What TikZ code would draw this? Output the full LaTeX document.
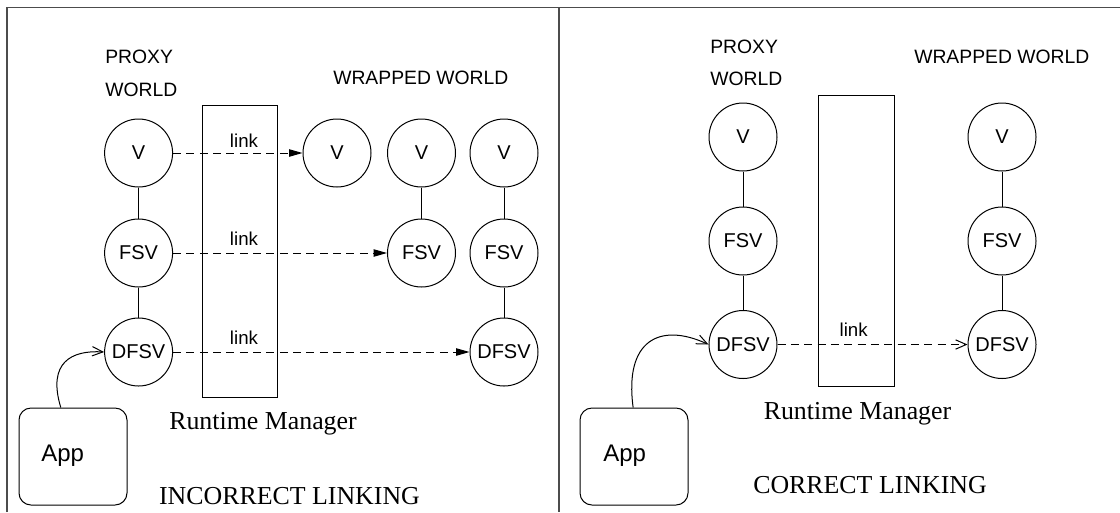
\documentclass[tikz,border=0pt]{standalone}
\usepackage{fontspec}
\setmainfont{Liberation Serif}
\setsansfont{Liberation Sans}
\usetikzlibrary{arrows.meta}
\begin{document}
\begin{tikzpicture}[x=0.75pt,y=-0.75pt,
 circ/.style={draw, circle, line width=0.75pt, minimum size=51pt, inner sep=0pt, font=\sffamily\fontsize{15}{18}\selectfont},
 lbl/.style={inner sep=0pt, font=\sffamily\fontsize{14.5}{17}\selectfont},
 linklbl/.style={inner sep=0pt, font=\sffamily\fontsize{14}{17}\selectfont},
 serif/.style={inner sep=0pt, font=\rmfamily\fontsize{19.4}{23}\selectfont},
 appbox/.style={draw, rounded corners=9pt, line width=0.75pt, minimum width=81pt, minimum height=72.75pt, inner sep=0pt},
 applbl/.style={inner sep=0pt, font=\sffamily\fontsize{18}{21}\selectfont},
 rmbox/.style={draw, line width=0.75pt, inner sep=0pt},
 frameline/.style={draw=black!70, line width=1.3pt},
 wire/.style={line width=0.75pt},
 dlink/.style={line width=0.75pt, dash pattern=on 6pt off 4pt},
 filledtip/.style={-{Triangle[length=10pt,width=5.5pt]}},
 opentip/.style={-{Straight Barb[length=8pt,width=7pt]}},
]
\useasboundingbox (0,0) rectangle (1120,512);

% frame
\coordinate (ftl) at (7,7.5);
\coordinate (ftr) at (1120,7.5);
\coordinate (fbl) at (7,512);
\coordinate (fdt) at (559,7.5);
\coordinate (fdb) at (559,512);
\draw[frameline] (fbl) -- (ftl) -- (ftr);
\draw[frameline] (fdt) -- (fdb);

% ---------------- left panel ----------------
\node[lbl, anchor=base west] (pxL) at (105,63) {PROXY};
\node[lbl, anchor=base west] (pwL) at (105,96) {WORLD};
\node[lbl, anchor=base west] (wwL) at (333,84) {WRAPPED WORLD};

\node[rmbox, minimum width=56.6pt, minimum height=219pt] (rmL) at (240.2,251) {};

\node[circ] (vL1) at (138.6,153) {V};
\node[circ] (vL2) at (337,153) {V};
\node[circ] (vL3) at (421.5,153) {V};
\node[circ] (vL4) at (504,153) {V};
\node[circ] (fL1) at (138.6,253) {FSV};
\node[circ] (fL3) at (421.5,253) {FSV};
\node[circ] (fL4) at (504,253) {FSV};
\node[circ] (dL1) at (138.6,352) {DFSV};
\node[circ] (dL4) at (504,352) {DFSV};

\draw[wire] (vL1) -- (fL1);
\draw[wire] (fL1) -- (dL1);
\draw[wire] (vL3) -- (fL3);
\draw[wire] (vL4) -- (fL4);
\draw[wire] (fL4) -- (dL4);

\node[linklbl, anchor=base] (lk1) at (244,147) {link};
\node[linklbl, anchor=base] (lk2) at (244,245) {link};
\node[linklbl, anchor=base] (lk3) at (244,344) {link};

\draw[dlink, filledtip] (vL1.east) -- (vL2.west);
\draw[dlink, filledtip] (fL1.east) -- (fL3.west);
\draw[dlink, filledtip] (dL1.east) -- (dL4.west);

\node[appbox] (appL) at (73,456.5) {};
\node[applbl, anchor=base west] (appLt) at (41,461) {App};
\draw[wire, opentip] (appL.104) .. controls (47,362) and (72,350) .. (dL1.west);

\node[serif, anchor=base] (rtL) at (263,429) {Runtime Manager};
\node[serif, anchor=base] (ilL) at (289.5,504) {INCORRECT LINKING};

% ---------------- right panel ----------------
\node[lbl, anchor=base west] (pxR) at (710,53) {PROXY};
\node[lbl, anchor=base west] (pwR) at (710,85) {WORLD};
\node[lbl, anchor=base west] (wwR) at (914,63) {WRAPPED WORLD};

\node[rmbox, minimum width=57pt, minimum height=218.25pt] (rmR) at (856,240.5) {};

\node[circ] (vR1) at (743,137) {V};
\node[circ] (vR2) at (1002,137) {V};
\node[circ] (fR1) at (743,241) {FSV};
\node[circ] (fR2) at (1002,241) {FSV};
\node[circ] (dR1) at (743,344.5) {DFSV};
\node[circ] (dR2) at (1002,344.5) {DFSV};

\draw[wire] (vR1) -- (fR1);
\draw[wire] (fR1) -- (dR1);
\draw[wire] (vR2) -- (fR2);
\draw[wire] (fR2) -- (dR2);

\node[linklbl, anchor=base] (lkR) at (853.6,336) {link};
\draw[dlink, opentip] (dR1.east) -- (dR2.west);

\node[appbox] (appR) at (634,456.5) {};
\node[applbl, anchor=base west] (appRt) at (603,461) {App};
\draw[wire, opentip] (appR.91) .. controls (624,340) and (660,322) .. (dR1.west);

\node[serif, anchor=base] (rtR) at (857.5,419) {Runtime Manager};
\node[serif, anchor=base] (clR) at (870,493) {CORRECT LINKING};
\end{tikzpicture}
\end{document}
